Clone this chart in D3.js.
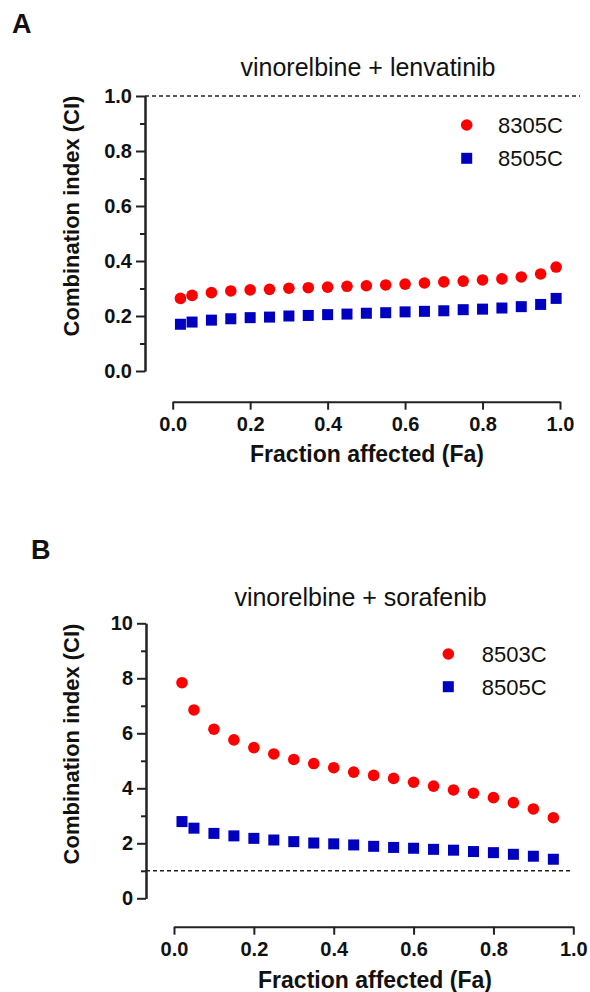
<!DOCTYPE html>
<html>
<head>
<meta charset="utf-8">
<script src="https://cdn.jsdelivr.net/npm/d3@7"></script>
<style>
  body { margin: 0; background: #fff; }
  svg text { font-family: "Liberation Sans", Arial, Helvetica, sans-serif; fill: #111; }
  .axis path, .axis line { stroke: #222; stroke-width: 2; }
  .axis text { font-size: 20px; font-weight: bold; }
</style>
</head>
<body>
<div id="chart"></div>
<script>
// panel A : vinorelbine + lenvatinib
var faA = [0.02, 0.05, 0.10, 0.15, 0.20, 0.25, 0.30, 0.35, 0.40, 0.45, 0.50, 0.55, 0.60, 0.65, 0.70, 0.75, 0.80, 0.85, 0.90, 0.95, 0.99];
var ciA_8305C = [0.264, 0.275, 0.285, 0.291, 0.295, 0.297, 0.301, 0.303, 0.305, 0.308, 0.310, 0.313, 0.316, 0.320, 0.324, 0.327, 0.331, 0.335, 0.342, 0.353, 0.378];
var ciA_8505C = [0.170, 0.178, 0.185, 0.190, 0.194, 0.196, 0.200, 0.202, 0.205, 0.207, 0.210, 0.212, 0.215, 0.217, 0.219, 0.223, 0.225, 0.229, 0.234, 0.242, 0.264];
var yTicksA = [0, 0.2, 0.4, 0.6, 0.8, 1.0];
var yMinorA = [0.1, 0.3, 0.5, 0.7, 0.9];

// panel B : vinorelbine + sorafenib
var faB = [0.02, 0.05, 0.10, 0.15, 0.20, 0.25, 0.30, 0.35, 0.40, 0.45, 0.50, 0.55, 0.60, 0.65, 0.70, 0.75, 0.80, 0.85, 0.90, 0.95];
var ciB_8503C = [7.84, 6.85, 6.15, 5.76, 5.48, 5.25, 5.05, 4.90, 4.75, 4.59, 4.47, 4.36, 4.22, 4.08, 3.94, 3.82, 3.66, 3.48, 3.25, 2.93];
var ciB_8505C = [2.79, 2.55, 2.36, 2.27, 2.18, 2.12, 2.06, 2.01, 1.98, 1.94, 1.89, 1.85, 1.82, 1.78, 1.75, 1.70, 1.66, 1.60, 1.53, 1.42];
var yTicksB = [0, 2, 4, 6, 8, 10];
var yMinorB = [1, 3, 5, 7, 9];

var xTicks = [0, 0.2, 0.4, 0.6, 0.8, 1.0];

var RED = "#ff0000", BLUE = "#0000c0";

var svg = d3.select("#chart").append("svg")
    .attr("width", 590)
    .attr("height", 992);

function drawPanel(p){
	var g = svg.append("g");
	var x = d3.scaleLinear().domain([0, 1]).range([p.x0, p.x1]);
	var y = d3.scaleLinear().domain(p.yDomain).range([p.yBottom, p.yTop]);

	// panel letter + title
	g.append("text")
		.attr("x", p.letterX).attr("y", p.letterY)
		.style("font-size", "27px").style("font-weight", "bold")
		.text(p.letter);
	g.append("text")
		.attr("x", p.titleX).attr("y", p.titleY)
		.attr("text-anchor", "middle")
		.style("font-size", "25px")
		.text(p.title);

	// CI = 1 reference line
	g.append("line")
		.attr("x1", p.axisX).attr("x2", p.dashEnd)
		.attr("y1", y(1)).attr("y2", y(1))
		.attr("stroke", "#222").attr("stroke-width", 1.5)
		.attr("stroke-dasharray", "4,3");

	// y axis (major + minor ticks)
	g.append("g")
		.attr("class", "axis")
		.attr("transform", "translate(" + p.axisX + ",0)")
		.call(d3.axisLeft(y).tickValues(p.yMinor).tickSize(5).tickSizeOuter(0).tickFormat(""));
	g.append("g")
		.attr("class", "axis")
		.attr("transform", "translate(" + p.axisX + ",0)")
		.call(d3.axisLeft(y).tickValues(p.yTicks).tickSize(9).tickSizeOuter(0).tickPadding(4).tickFormat(p.yFormat));

	// x axis, offset below the plot
	g.append("g")
		.attr("class", "axis")
		.attr("transform", "translate(0," + p.xAxisY + ")")
		.call(d3.axisBottom(x).tickValues(xTicks).tickSize(8).tickSizeOuter(0).tickPadding(7).tickFormat(d3.format(".1f")));

	g.append("text")
		.attr("x", p.xTitleX).attr("y", p.xTitleY)
		.attr("text-anchor", "middle")
		.style("font-size", "23px").style("font-weight", "bold")
		.text("Fraction affected (Fa)");
	g.append("text")
		.attr("transform", "translate(79," + p.yTitleY + ") rotate(-90)")
		.attr("text-anchor", "middle")
		.style("font-size", "22px").style("font-weight", "bold")
		.text("Combination index (CI)");

	// markers
	var redData = p.fa.map(function(d, i){ return {fa: d, ci: p.red[i]}; });
	var blueData = p.fa.map(function(d, i){ return {fa: d, ci: p.blue[i]}; });
	g.selectAll(".blueSq")
		.data(blueData)
		.enter().append("rect")
		.attr("class", "blueSq")
		.attr("x", function(d){ return x(d.fa) - 5.5; })
		.attr("y", function(d){ return y(d.ci) - 5.5; })
		.attr("width", 11).attr("height", 11)
		.attr("fill", BLUE);
	g.selectAll(".redDot")
		.data(redData)
		.enter().append("circle")
		.attr("class", "redDot")
		.attr("cx", function(d){ return x(d.fa); })
		.attr("cy", function(d){ return y(d.ci); })
		.attr("r", 5.8)
		.attr("fill", RED);

	// legend
	var lg = g.append("g").attr("transform", "translate(" + p.legX + "," + p.legY + ")");
	lg.append("circle").attr("cx", 0).attr("cy", 0).attr("r", 5.8).attr("fill", RED);
	lg.append("rect").attr("x", -5.5).attr("y", p.legGap - 5.5).attr("width", 11).attr("height", 11).attr("fill", BLUE);
	lg.append("text").attr("x", p.legTextDx).attr("y", 8).style("font-size", "22px").text(p.redName);
	lg.append("text").attr("x", p.legTextDx).attr("y", p.legGap + 8).style("font-size", "22px").text(p.blueName);
}

drawPanel({
	letter: "A", letterX: 12, letterY: 33,
	title: "vinorelbine + lenvatinib", titleX: 368, titleY: 76,
	x0: 172.7, x1: 560, yDomain: [0, 1], yBottom: 371, yTop: 96,
	axisX: 145, xAxisY: 401.7, dashEnd: 580,
	yTicks: yTicksA, yMinor: yMinorA, yFormat: d3.format(".1f"),
	xTitleX: 367, xTitleY: 462, yTitleY: 216,
	fa: faA, red: ciA_8305C, blue: ciA_8505C,
	redName: "8305C", blueName: "8505C",
	legX: 466.7, legY: 125, legGap: 33.3, legTextDx: 31.3
});

drawPanel({
	letter: "B", letterX: 31, letterY: 559,
	title: "vinorelbine + sorafenib", titleX: 360.5, titleY: 605.7,
	x0: 174, x1: 573.3, yDomain: [0, 10], yBottom: 898.3, yTop: 623.3,
	axisX: 146, xAxisY: 926.7, dashEnd: 570,
	yTicks: yTicksB, yMinor: yMinorB, yFormat: d3.format("d"),
	xTitleX: 375, xTitleY: 988, yTitleY: 744,
	fa: faB, red: ciB_8503C, blue: ciB_8505C,
	redName: "8503C", blueName: "8505C",
	legX: 448.3, legY: 654, legGap: 32.7, legTextDx: 33.4
});
</script>
</body>
</html>
